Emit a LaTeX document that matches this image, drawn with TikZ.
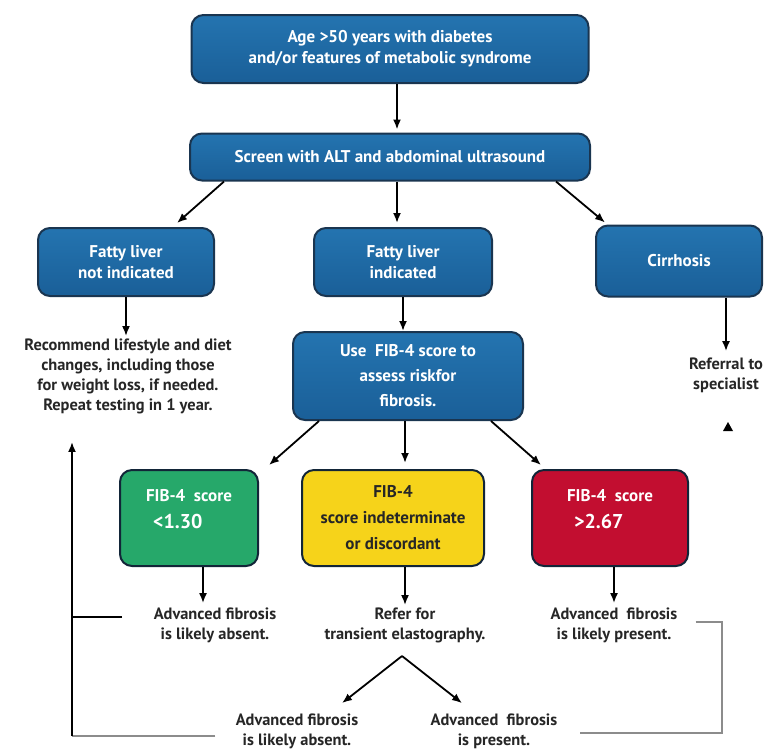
\documentclass[tikz,border=0pt]{standalone}
\usepackage{fontspec}
\setmainfont{PT Sans}
\usetikzlibrary{arrows.meta,positioning,calc}
\definecolor{FlowBlue}{HTML}{2474B0}
\definecolor{FlowBlueDark}{HTML}{1A5F98}
\definecolor{FlowEdge}{HTML}{1A3550}
\definecolor{ScoreGreen}{HTML}{26A86A}
\definecolor{ScoreYellow}{HTML}{F6D31A}
\definecolor{ScoreRed}{HTML}{C20E30}
\definecolor{LoopGrey}{HTML}{8C8C8C}

\begin{document}
\begin{tikzpicture}[x=0.5pt,y=-0.5pt, every node/.style={font=\bfseries\fontsize{8.5}{10.5}\selectfont,align=center},
    stepbox/.style={draw=FlowEdge,line width=1pt,rounded corners=6pt,text=white,top color=FlowBlue,bottom color=FlowBlueDark,inner sep=2pt},
    scorebox/.style={draw=FlowEdge!70!black,line width=1pt,rounded corners=6pt,inner sep=2pt,minimum height=48pt},
    note/.style={text=black!85,font=\bfseries\fontsize{8.2}{10}\selectfont,inner sep=1pt},
    arr/.style={-{Latex[length=5pt,width=4pt]},line width=0.9pt}]
    \useasboundingbox (0,0) rectangle (780,751);
    % blue steps
    \node[stepbox,minimum width=198.5pt,minimum height=34pt] (age) at (390,49) {Age >50 years with diabetes\\and/or features of metabolic syndrome};
    \node[stepbox,minimum width=200pt,minimum height=23.5pt] (screen) at (390,157) {Screen with ALT and abdominal ultrasound};
    \node[stepbox,minimum width=88pt,minimum height=34pt] (nofat) at (126,262) {Fatty liver\\not indicated};
    \node[stepbox,minimum width=89pt,minimum height=34pt] (fat) at (403,262) {Fatty liver\\indicated};
    \node[stepbox,minimum width=83pt,minimum height=35.5pt] (cirr) at (679,261) {Cirrhosis};
    \node[stepbox,minimum width=115pt,minimum height=44pt,font=\bfseries\fontsize{8.5}{12.5}\selectfont] (fib) at (408,376) {Use\ \ FIB-4 score to\\assess riskfor\\fibrosis.};
    % score boxes
    \node[scorebox,fill=ScoreGreen,text=white,minimum width=69pt,align=left] (low) at (189,518) {FIB-4\ \ score\\[3pt]\hspace*{3.5pt}{\fontsize{10}{12}\selectfont <1.30}\rule[-9pt]{0pt}{9pt}};
    \node[scorebox,fill=ScoreYellow,text=black!85,minimum width=91pt,font=\bfseries\fontsize{8.5}{13}\selectfont] (mid) at (393,518) {FIB-4\\score indeterminate\\or discordant};
    \node[scorebox,fill=ScoreRed,text=white,minimum width=78pt,align=left] (high) at (610,518) {FIB-4\ \ score\\[3pt]\hspace*{3.5pt}{\fontsize{10}{12}\selectfont >2.67}\rule[-9pt]{0pt}{9pt}};
    % plain texts
    \node[note] (advice) at (128,376) {Recommend lifestyle and diet\\changes, including those\\for weight loss, if needed.\\Repeat testing in 1 year.};
    \node[note] (refer) at (726,375) {Referral to\\specialist};
    \node[note] (absent) at (215,625) {Advanced fibrosis\\is likely absent.};
    \node[note] (elasto) at (405,625) {Refer for\\transient elastography.};
    \node[note] (present) at (614,625) {Advanced\ \ fibrosis\\is likely present.};
    \node[note] (absent2) at (297,731) {Advanced fibrosis\\is likely absent.};
    \node[note] (present2) at (494,731) {Advanced\ \ fibrosis\\is present.};
    % connectors
    \draw[arr] ([xshift=3.5pt]age.south) -- ([xshift=3.5pt,yshift=1.5pt]screen.north);
    \draw[arr] ($(screen.south west)+(35,0)$) -- ($(nofat.north east)+(-38,-4)$);
    \draw[arr] (screen.south -| fat.north) ++(-6,0) -- ($(fat.north)+(-6,-4)$);
    \draw[arr] ($(screen.south east)+(-35,0)$) -- ($(cirr.north west)+(10,-2)$);
    \draw[arr] (nofat.south) -- (nofat.south |- advice.north);
    \draw[arr] (fat.south) -- (fat.south |- fib.north);
    \draw[arr] (cirr.south -| refer.north) -- ($(refer.north)+(0,-4)$);
    \draw[arr] ($(fib.south west)+(27,0)$) -- ($(low.north east)+(10,-4)$);
    \draw[arr] (fib.south -| elasto.north) -- ($(mid.north -| elasto.north)+(0,-6)$);
    \draw[arr] ($(fib.south east)+(-33,0)$) -- ($(high.north west)+(10,-4)$);
    \draw[arr] ($(low.south)+(14,0)$) -- ($(absent.north)+(-12,-2)$);
    \draw[arr] (mid.south -| elasto.north) -- (elasto.north);
    \draw[arr] (high.south -| present.north) -- ($(present.north)+(0,-2)$);
    \coordinate (apex) at (402,656);
    \draw[arr] (apex) -- ($(absent2.north)+(45,-8)$);
    \draw[arr] (apex) -- ($(present2.north)+(-32,-8)$);
    % loops back
    \coordinate (lbot) at (72,736);
    \coordinate (ltick) at (122,617);
    \coordinate (rtop) at (722,622);
    \draw[LoopGrey,line width=1.2pt] ($(absent2.west)+(-18,5)$) -- (lbot);
    \draw[arr] (lbot) -- ($(lbot |- advice.south)+(0,26)$);
    \draw[line width=0.9pt] (ltick) -- (ltick -| lbot);
    \draw[LoopGrey,line width=1.2pt] ($(present.east)+(16,-3)$) -- (rtop) |- ($(present2.east)+(20,2)$);
    \fill (723,431) -- (733,431) -- (728,422) -- cycle;
\end{tikzpicture}
\end{document}
